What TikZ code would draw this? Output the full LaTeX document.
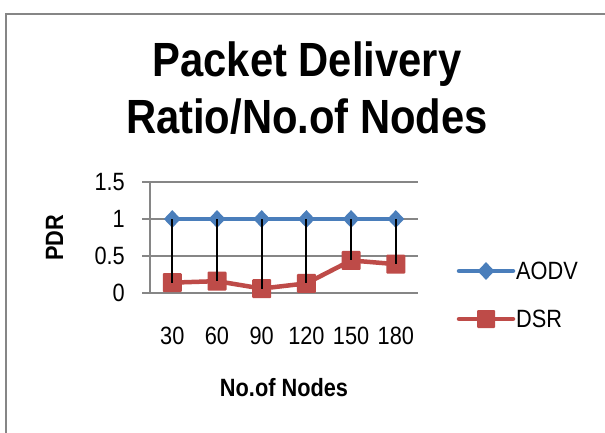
\documentclass[tikz,border=0pt]{standalone}
\usepackage{fontspec}
\setmainfont{Liberation Sans}
\newfontfamily\narrowfont[FakeStretch=0.87]{Liberation Sans}
\usetikzlibrary{
    shapes.geometric, % diamond markers
    positioning
}
\definecolor{aodvblue}{HTML}{4A7EBB}
\definecolor{dsrred}{HTML}{BE4B48}
\definecolor{gridgray}{HTML}{868686}

\begin{document}
\begin{tikzpicture}[x=1pt,y=-1pt,
    gridline/.style={gridgray,line width=1.6pt},
    aodvline/.style={aodvblue,line width=4.5pt,line cap=round,line join=round},
    dsrline/.style={dsrred,line width=4.5pt,line cap=round,line join=round},
    aodvmark/.style={diamond,fill=aodvblue,inner sep=0pt,minimum width=17pt,minimum height=18pt},
    dsrmark/.style={rectangle,fill=dsrred,inner sep=0pt,minimum size=19pt,rounded corners=1pt},
    dropline/.style={black,line width=2pt},
    ticklabel/.style={font=\narrowfont\fontsize{25}{28}\selectfont,inner sep=0pt},
    legendlabel/.style={font=\narrowfont\fontsize{25}{28}\selectfont,inner sep=0pt,anchor=west},
    titletext/.style={font=\narrowfont\bfseries\fontsize{48}{55}\selectfont,inner sep=0pt,anchor=base},
    axistitle/.style={font=\narrowfont\bfseries\fontsize{25}{28}\selectfont,inner sep=0pt,anchor=base}
    ]
    \useasboundingbox (0,0) rectangle (605,433);
    \fill[white] (0,0) rectangle (605,433);
    \draw[gridline] (6,433) -- (6,14) -- (605,14);

    % title
    \node[titletext] (title1) at (307,77) {Packet Delivery};
    \node[titletext] (title2) at (307,134) {Ratio/No.of Nodes};

    % grid and value axis
    \foreach \v in {0,0.5,1,1.5} {
        \draw[gridline] (142,293-74*\v) -- (418,293-74*\v);
        \node[ticklabel,anchor=east] (ytick\v) at (125,293-74*\v) {\v};
    }
    \draw[gridline] (150,182) -- (150,293);

    % data points
    \foreach \i/\n/\d in {1/30/0.14,2/60/0.16,3/90/0.06,4/120/0.13,5/150/0.44,6/180/0.39} {
        \coordinate (a\i) at (127.6+44.7*\i,219);
        \coordinate (d\i) at (127.6+44.7*\i,293-74*\d);
        \node[ticklabel,anchor=base] (xtick\i) at (127.6+44.7*\i,344) {\n};
    }
    \draw[aodvline] (a1) -- (a2) -- (a3) -- (a4) -- (a5) -- (a6);
    \draw[dsrline] (d1) -- (d2) -- (d3) -- (d4) -- (d5) -- (d6);
    \foreach \i in {1,...,6} {
        \node[aodvmark] (am\i) at (a\i) {};
        \node[dsrmark] (dm\i) at (d\i) {};
    }
    \foreach \i in {1,...,6}
        \draw[dropline] (a\i) -- (d\i);

    % axis titles
    \node[axistitle] (xtitle) at (284,396) {No.of Nodes};
    \node[axistitle,rotate=90] (ytitle) at (63,238) {PDR};

    % legend
    \coordinate (la1) at (459,271);
    \coordinate (la2) at (513,271);
    \coordinate (ld1) at (459,319);
    \coordinate (ld2) at (513,319);
    \draw[aodvline] (la1) -- (la2);
    \draw[dsrline] (ld1) -- (ld2);
    \node[aodvmark] (lam) at (486,271) {};
    \node[dsrmark,minimum size=18pt] (ldm) at (486,319) {};
    \node[legendlabel] (laodv) at (516,271) {AODV};
    \node[legendlabel] (ldsr) at (516,319) {DSR};
\end{tikzpicture}
\end{document}
